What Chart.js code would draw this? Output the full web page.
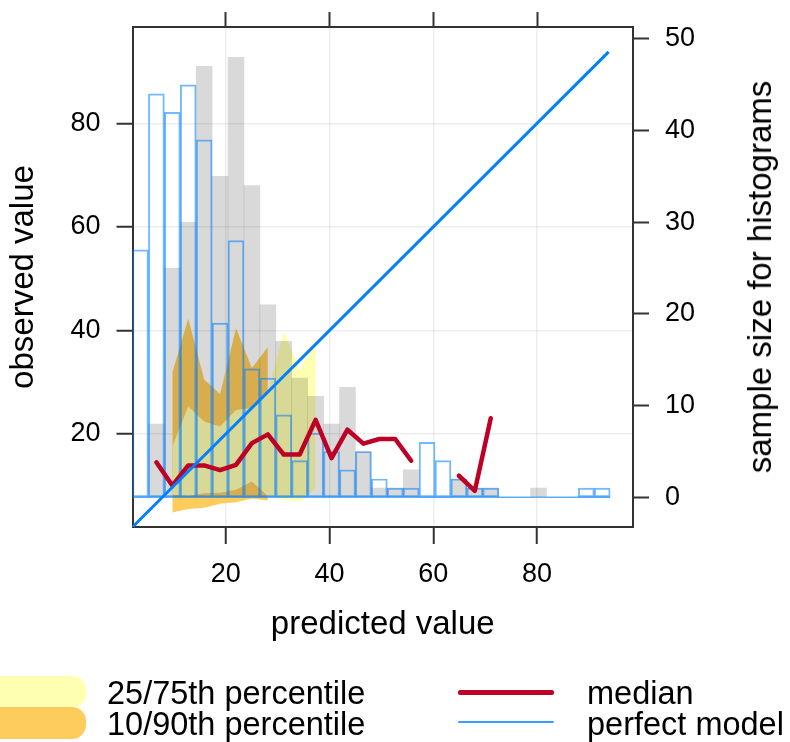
<!DOCTYPE html>
<html>
<head>
<meta charset="utf-8">
<title>Conditional quantiles</title>
<script src="https://cdn.jsdelivr.net/npm/chart.js@4.4.1/dist/chart.umd.min.js"></script>
<style>
  body { margin: 0; background: #fff; }
  #wrap { position: relative; width: 790px; height: 742px; overflow: hidden; background: #fff;
          font-family: 'Liberation Sans', Arial, Helvetica, sans-serif; color: #000; }
  #chart { position: absolute; left: 0; top: 0; }
  .txt { position: absolute; font-size: 32.5px; line-height: 36px; white-space: nowrap; }
  #rightTitle { left: 760px; top: 277px; font-size: 33px; transform: translate(-50%, -50%) rotate(-90deg); }
  .swatch { position: absolute; left: -40px; width: 126px; height: 32px; border-radius: 14px; }
  .key { position: absolute; left: 458px; width: 96px; border-radius: 2px; }
</style>
</head>
<body>
<div id="wrap">
  <canvas id="chart" width="790" height="742"></canvas>
  <div class="txt" id="rightTitle">sample size for histograms</div>

  <div class="swatch" style="top:676px; background:#FFFFB2"></div>
  <div class="swatch" style="top:707px; background:#FECC5C"></div>
  <div class="txt" style="left:107px; top:675px">25/75th percentile</div>
  <div class="txt" style="left:107px; top:706px">10/90th percentile</div>
  <div class="key" style="top:690px; height:4.5px; background:#BD0026"></div>
  <div class="key" style="top:721px; height:2px; background:#3D9BFF"></div>
  <div class="txt" style="left:587px; top:675px">median</div>
  <div class="txt" style="left:587px; top:706px">perfect model</div>
</div>

<script>
// bins of predicted value (mid points), all bins are the same width
const binMids = [3.535, 6.605, 9.675, 12.745, 15.815, 18.885, 21.955, 25.025, 28.095, 31.165,
                 34.235, 37.305, 40.375, 43.445, 46.515, 49.585, 52.655, 55.725, 58.795, 61.865,
                 64.935, 68.005, 71.075, 74.145, 77.215, 80.285, 83.355, 86.425, 89.495, 92.565];
const binWidth = 3.07;

// histogram counts (right axis)
const predCounts = [27, 44, 42, 45, 39, 19, 28, 14, 13, 9, 4, 7, 5, 3, 5, 2, 1, 1, 6, 4,
                    2, 1, 1, 0, 0, 0, 0, 0, 1, 1];
const obsCounts  = [0, 8, 25, 30, 47, 35, 48, 34, 21, 17, 13, 11, 8, 12, 5, 1, 1, 3, 0, 0,
                    2, 1, 1, 0, 0, 1, 0, 0, 0, 0];

// observed value quantiles for each bin (left axis)
const q10 = [null, null, 4.8, 5.5, 5.7, 6.5, 6.8, 7.5, 7.1, null, null, null, null, null, null,
             null, null, null, null, null, null, null, null, null, null, null, null, null, null, null];
const q90 = [null, null, 31.8, 42.3, 30.5, 27.7, 40.4, 32.7, 36.8, null, null, null, null, null, null,
             null, null, null, null, null, null, null, null, null, null, null, null, null, null, null];
const q25 = [null, null, 8.3, 8.0, 8.5, 8.6, 9.2, 10.8, 8.0, 7.2, 6.9, 9.5, null, null, null,
             null, null, null, null, null, null, null, null, null, null, null, null, null, null, null];
const q75 = [null, null, 17.5, 25.3, 22.4, 21.4, 24.6, 25.0, 28.0, 39.8, 32.4, 38.0, null, null, null,
             null, null, null, null, null, null, null, null, null, null, null, null, null, null, null];
const median = [null, 14.5, 10.0, 13.9, 13.9, 13.0, 14.0, 18.2, 19.9, 16.0, 16.0, 22.7, 15.3, 20.8, 18.1,
                19.0, 19.0, 14.8, null, null, 11.9, 9.0, 23.0, null, null, null, null, null, null, null];

// 1:1 line
const perfectLine = [2.0, 93.8];

// axis ticks
const xTicks = [20, 40, 60, 80];
const yTicks = [20, 40, 60, 80];
const countTicks = [0, 10, 20, 30, 40, 50];

const fontFamily = "'Liberation Sans', Arial, Helvetica, sans-serif";
const frame = '#333333';
const gridCol = 'rgba(0,0,0,0.07)';

Chart.defaults.font.family = fontFamily;
Chart.defaults.color = '#000';

const toPoints = (vals) => binMids.map((x, i) => ({x: x, y: vals[i]}));
const bandPoints = (vals) => toPoints(vals).filter(p => p.y !== null);

// fixes the size of an axis box so the plot frame sits where it should
function fixBox(size) {
  return function(scale) {
    if (scale.isHorizontal()) scale.height = size;
    else scale.width = size;
    scale.paddingLeft = 0;
    scale.paddingRight = 0;
    scale.paddingTop = 0;
    scale.paddingBottom = 0;
  };
}
function setTicks(list) {
  return function(scale) {
    scale.ticks = list.map(v => ({value: v}));
  };
}

const band = (vals, color, fill, order) => ({
  type: 'line',
  data: bandPoints(vals),
  xAxisID: 'x', yAxisID: 'y',
  borderColor: 'transparent',
  borderWidth: 0,
  backgroundColor: color,
  pointRadius: 0,
  fill: fill,
  order: order
});

new Chart(document.getElementById('chart'), {
  type: 'bar',
  data: {
    datasets: [
      band(q90, '#FECC5C', '+1', 6),
      band(q10, '#FECC5C', false, 7),
      band(q75, '#FFFFB2', '+1', 4),
      band(q25, '#FFFFB2', false, 5),
      {
        type: 'bar',
        data: toPoints(obsCounts),
        xAxisID: 'x', yAxisID: 'y2',
        backgroundColor: 'rgba(0,0,0,0.15)',
        borderWidth: 0,
        grouped: false,
        barPercentage: 1,
        categoryPercentage: 1,
        order: 3
      },
      {
        type: 'bar',
        data: toPoints(predCounts),
        xAxisID: 'x', yAxisID: 'y2',
        backgroundColor: 'transparent',
        borderColor: 'rgba(0,128,255,0.55)',
        borderWidth: 1.3,
        borderSkipped: false,
        grouped: false,
        barPercentage: 1,
        categoryPercentage: 1,
        order: 2
      },
      {
        // zero line of the predicted histogram
        type: 'line',
        data: [{x: binMids[0] - binWidth / 2, y: 0}, {x: binMids[binMids.length - 1] + binWidth / 2, y: 0}],
        xAxisID: 'x', yAxisID: 'y2',
        borderColor: 'rgba(0,128,255,0.6)',
        borderWidth: 1.5,
        pointRadius: 0,
        fill: false,
        order: 2
      },
      {
        type: 'line',
        data: toPoints(median),
        xAxisID: 'x', yAxisID: 'y',
        borderColor: '#BD0026',
        borderWidth: 4.5,
        borderJoinStyle: 'round',
        borderCapStyle: 'round',
        pointRadius: 0,
        spanGaps: false,
        fill: false,
        order: 1
      },
      {
        type: 'line',
        data: perfectLine.map(v => ({x: v, y: v})),
        xAxisID: 'x', yAxisID: 'y',
        borderColor: '#0080FF',
        borderWidth: 3,
        pointRadius: 0,
        fill: false,
        order: 0
      }
    ]
  },
  options: {
    responsive: false,
    animation: false,
    events: [],
    layout: { padding: { top: 0, left: 0, right: 0, bottom: 82 } },
    plugins: {
      legend: { display: false },
      tooltip: { enabled: false }
    },
    scales: {
      x: {
        type: 'linear',
        position: 'bottom',
        offset: false,
        min: 2.0,
        max: 98.5,
        afterBuildTicks: setTicks(xTicks),
        afterFit: fixBox(133),
        grid: { offset: false, color: gridCol, lineWidth: 1.5, tickColor: frame, tickLength: 17, tickWidth: 2 },
        border: { color: frame, width: 2 },
        ticks: { font: { size: 27 }, color: '#000', padding: 14 },
        title: { display: true, text: 'predicted value', font: { size: 33 }, color: '#000',
                 padding: { top: 0, bottom: 15 } }
      },
      xTop: {
        type: 'linear',
        position: 'top',
        offset: false,
        min: 2.0,
        max: 98.5,
        afterBuildTicks: setTicks(xTicks),
        afterFit: fixBox(27),
        grid: { offset: false, drawOnChartArea: false, tickColor: frame, tickLength: 15, tickWidth: 2 },
        border: { color: frame, width: 2 },
        ticks: { display: false }
      },
      y: {
        type: 'linear',
        position: 'left',
        min: 2.0,
        max: 98.6,
        afterBuildTicks: setTicks(yTicks),
        afterFit: fixBox(132.5),
        grid: { color: gridCol, lineWidth: 1.5, tickColor: frame, tickLength: 16, tickWidth: 2 },
        border: { color: frame, width: 2 },
        ticks: { font: { size: 27 }, color: '#000', padding: 16 },
        title: { display: true, text: 'observed value', font: { size: 33 }, color: '#000',
                 padding: { top: 4, bottom: 0 } }
      },
      y2: {
        type: 'linear',
        position: 'right',
        min: -3.24,
        max: 51.3,
        afterBuildTicks: setTicks(countTicks),
        afterFit: fixBox(157),
        grid: { drawOnChartArea: false, tickColor: frame, tickLength: 16, tickWidth: 2 },
        border: { color: frame, width: 2 },
        ticks: { font: { size: 27 }, color: '#000', padding: 16 }
      }
    }
  }
});
</script>
</body>
</html>
